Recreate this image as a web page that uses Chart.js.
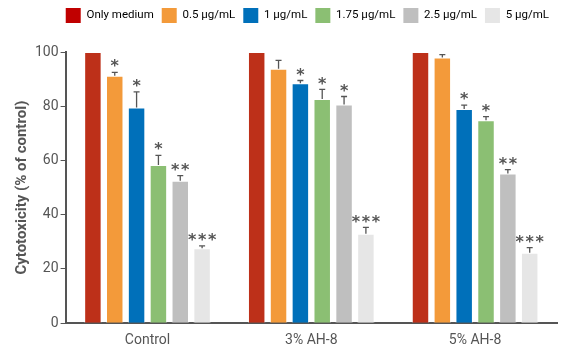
<!DOCTYPE html>
<html>
<head>
<meta charset="utf-8">
<script src="https://cdn.jsdelivr.net/npm/chart.js@4.4.0/dist/chart.umd.min.js"></script>
<style>
  html, body { margin: 0; padding: 0; background: #fff; }
  #wrap { width: 563px; height: 353px; }
</style>
</head>
<body>
<div id="wrap"><canvas id="barChart"></canvas></div>
<script>
const groups = ['Control', '3% AH-8', '5% AH-8'];
const doses = ['Only medium', '0.5 \u03bcg/mL', '1 \u03bcg/mL', '1.75 \u03bcg/mL', '2.5 \u03bcg/mL', '5 \u03bcg/mL'];
const colors = ['#bd3019', '#f39a3a', '#0070ba', '#8bbf73', '#bfbfbf', '#e6e6e6'];
const legendColors = ['#c00000', '#f39a3a', '#0070ba', '#8bbf73', '#bfbfbf', '#e6e6e6'];

// mean per dose, one entry per group
const onlyMedium = [100, 100, 100];
const dose05 = [91.2, 93.8, 98];
const dose1 = [79.5, 88.5, 79];
const dose175 = [58.3, 82.7, 74.8];
const dose25 = [52.5, 80.6, 55.2];
const dose5 = [27.6, 33, 26];

// error (SD) per dose
const err0 = [0, 0, 0];
const err05 = [1.3, 3.1, 1];
const err1 = [5.8, 1, 1.4];
const err175 = [3.6, 3.5, 1.4];
const err25 = [1.9, 3, 1.4];
const err5 = [0.9, 2.3, 1.9];

// significance marks
const sig0 = ['', '', ''];
const sig05 = ['*', '', ''];
const sig1 = ['*', '*', '*'];
const sig175 = ['*', '*', '*'];
const sig25 = ['**', '*', '**'];
const sig5 = ['***', '***', '***'];

const means = [onlyMedium, dose05, dose1, dose175, dose25, dose5];
const errs = [err0, err05, err1, err175, err25, err5];
const sigs = [sig0, sig05, sig1, sig175, sig25, sig5];

const errorBars = {
  id: 'errorBars',
  afterDatasetsDraw(chart) {
    const ctx = chart.ctx;
    const y = chart.scales.y;
    ctx.save();
    chart.data.datasets.forEach((ds, i) => {
      const meta = chart.getDatasetMeta(i);
      meta.data.forEach((bar, j) => {
        const e = errs[i][j];
        let topY = y.getPixelForValue(means[i][j] + e);
        if (e > 0) {
          ctx.strokeStyle = '#555';
          ctx.lineWidth = 1.3;
          ctx.beginPath();
          ctx.moveTo(bar.x, bar.y);
          ctx.lineTo(bar.x, topY);
          ctx.moveTo(bar.x - 3, topY);
          ctx.lineTo(bar.x + 3, topY);
          ctx.stroke();
        }
        const s = sigs[i][j];
        if (s) {
          ctx.fillStyle = '#555';
          ctx.font = 'bold 16px "DejaVu Sans"';
          ctx.textAlign = 'center';
          ctx.textBaseline = 'middle';
          ctx.fillText(s.split('').join('\u200a'), bar.x, topY - 5);
        }
      });
    });
    ctx.restore();
  }
};

// extra space below the legend
const legendGap = {
  id: 'legendGap',
  beforeInit(chart) {
    const fit = chart.legend.fit;
    chart.legend.fit = function () {
      fit.bind(chart.legend)();
      this.height += 19;
    };
  }
};

function draw() {
  const data = {
    labels: groups,
    datasets: doses.map((d, i) => ({
      label: d,
      data: means[i],
      backgroundColor: colors[i],
      borderColor: 'rgba(255,255,255,0.5)',
      borderWidth: 1,
      legendColor: legendColors[i]
    }))
  };

  new Chart(document.getElementById('barChart'), {
    type: 'bar',
    data: data,
    plugins: [errorBars, legendGap],
    options: {
      responsive: true,
      maintainAspectRatio: false,
      animation: false,
      layout: { padding: { left: 13, right: 6, top: 0, bottom: 0 } },
      datasets: { bar: { barPercentage: 0.8, categoryPercentage: 0.8 } },
      plugins: {
        legend: {
          display: true,
          position: 'top',
          align: 'end',
          labels: {
            boxWidth: 15,
            boxHeight: 15,
            padding: 8,
            color: '#555',
            font: { family: 'Roboto', size: 11.5 },
            generateLabels(chart) {
              return chart.data.datasets.map((ds, i) => ({
                text: ds.label,
                fillStyle: ds.legendColor,
                strokeStyle: ds.legendColor,
                lineWidth: 0,
                datasetIndex: i
              }));
            }
          }
        },
        tooltip: { enabled: false }
      },
      scales: {
        x: {
          grid: { display: false, drawOnChartArea: false, drawTicks: true, offset: true, tickLength: 5, color: '#555' },
          border: { color: '#555', width: 2 },
          ticks: { color: '#555', font: { family: 'Roboto', size: 14 }, padding: 4 }
        },
        y: {
          min: 0,
          max: 100,
          ticks: { stepSize: 20, color: '#555', font: { family: 'Roboto', size: 14 }, padding: 2 },
          grid: { display: true, drawOnChartArea: false, drawTicks: true, tickLength: 5, color: '#555' },
          border: { color: '#555', width: 2 },
          title: {
            display: true,
            text: 'Cytotoxicity (% of control)',
            color: '#555',
            font: { family: 'Roboto', size: 15, weight: 'bold' },
            padding: { top: 0, bottom: 2 }
          }
        }
      }
    }
  });
}
draw();
</script>
</body>
</html>
